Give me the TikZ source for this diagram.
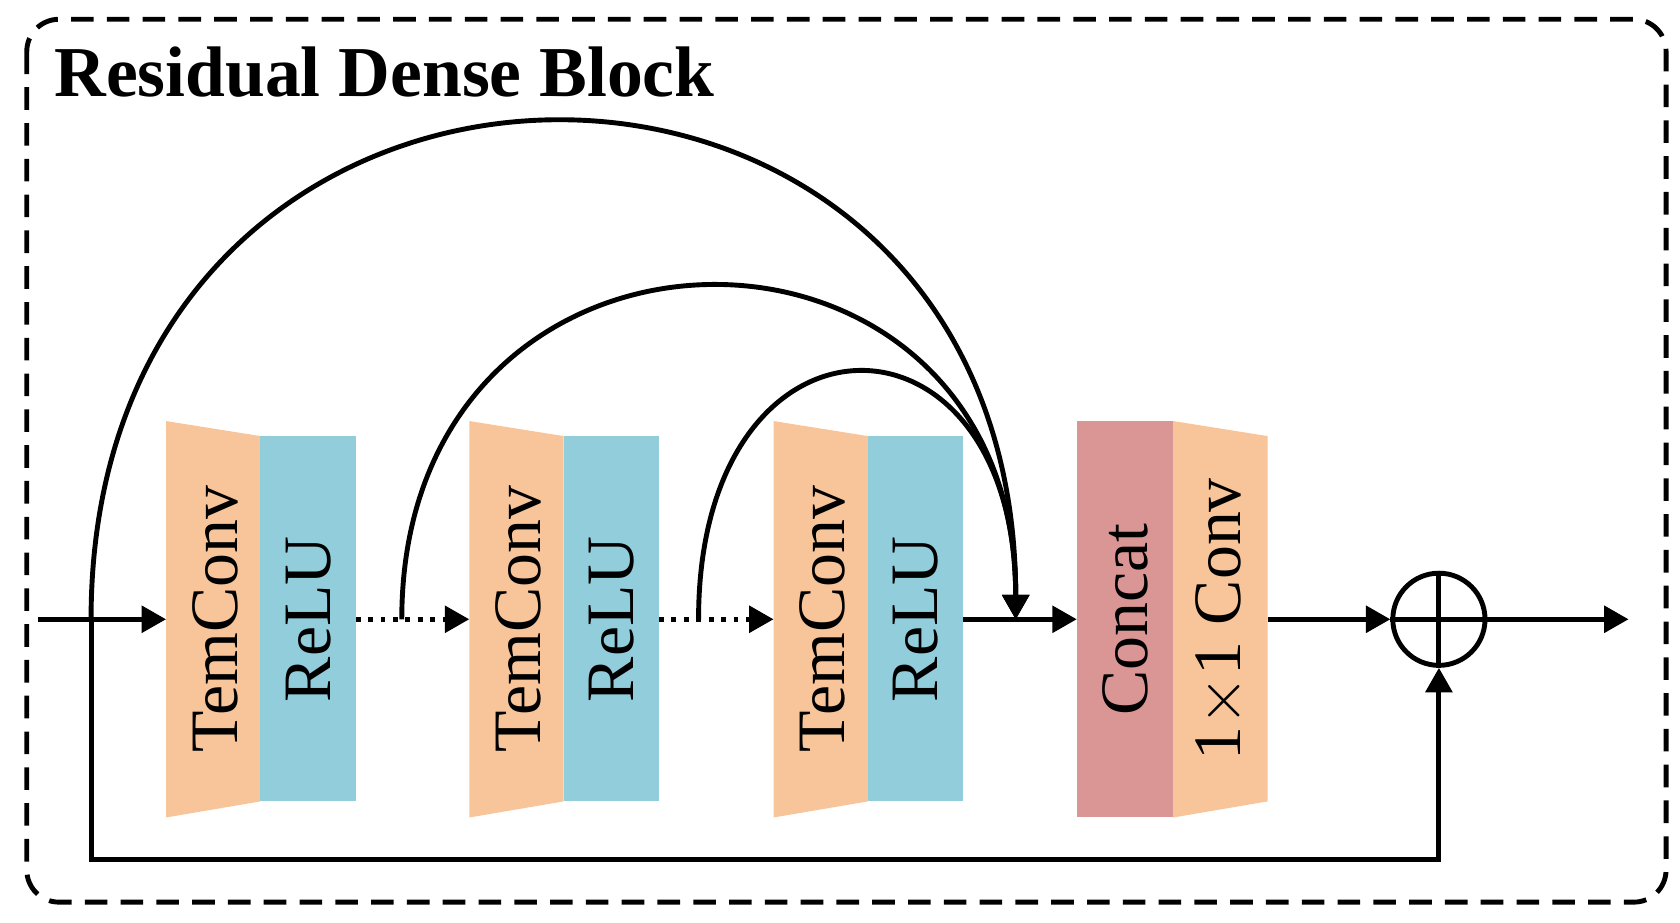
\documentclass[tikz,border=0pt]{standalone}
\usepackage{fontspec}
\setmainfont{Liberation Serif}
\usetikzlibrary{arrows.meta}
\definecolor{org}{HTML}{F8C59A}
\definecolor{blu}{HTML}{92CDDC}
\definecolor{pnk}{HTML}{D99694}
\begin{document}
\begin{tikzpicture}[x=0.01cm,y=-0.01cm,
  ln/.style={line width=1.3pt},
  arr/.style={ln,-{Triangle[length=6.5pt,width=7pt]}},
  lbl/.style={rotate=90,font=\fontsize{18}{18}\selectfont,inner sep=0pt},
  trap/.style={fill=org,draw=none},
  rel/.style={fill=blu,draw=none}]
\useasboundingbox (0,0) rectangle (1568,861);
\draw[ln,dash pattern=on 6pt off 3.5pt,rounded corners=0.3cm] (25,18) rectangle (1555,842);
\node[anchor=base west,font=\fontsize{19}{19}\bfseries\selectfont,inner sep=0pt] (title) at (50,90) {Residual Dense Block};
% blocks
\foreach \x/\n in {155/a,438/b,722/c}{
  \fill[trap] (\x,393) -- (\x+88,407) -- (\x+88,748) -- (\x,763) -- cycle;
  \fill[rel] (\x+88,407) rectangle (\x+177,748);
  \node[lbl] (t\n) at (\x+46,578) {TemConv};
  \node[lbl] (r\n) at (\x+133,578) {ReLU};
  \coordinate (in\n) at (\x,578);
  \coordinate (out\n) at (\x+177,578);
}
\fill[pnk] (1005,393) rectangle (1095,763);
\fill[trap] (1095,393) -- (1183,407) -- (1183,748) -- (1095,763) -- cycle;
\node[lbl] (cc) at (1050,578) {Concat};
\node[lbl] (cv) at (1139,578) {1$\times$1 Conv};
\coordinate (inD) at (1005,578);
\coordinate (outD) at (1183,578);
\node[circle,draw,ln,minimum size=0.86cm,inner sep=0pt] (sum) at (1343,578) {};
\draw[ln] (sum.north) -- (sum.south) (sum.west) -- (sum.east);
\coordinate (start) at (35,578);
\coordinate (split) at (85,578);
\coordinate (end) at (1520,578);
\coordinate (m) at (948,578);
\coordinate (s2) at (375,578);
\coordinate (s3) at (652,578);
% connectors
\draw[arr] (start) -- (ina);
\draw[arr,dotted] (outa) -- (inb);
\draw[arr,dotted] (outb) -- (inc);
\draw[arr] (outc) -- (inD);
\draw[arr] (outD) -- (sum.west);
\draw[arr] (sum.east) -- (end);
\draw[arr] (split) -- (85,802) -- (1343,802) -- (sum.south);
\draw[arr] (split) .. controls (85,-40) and (948,-40) .. (m);
\draw[arr] (s2) .. controls (375,165) and (948,165) .. (m);
\draw[arr] (s3) .. controls (652,272) and (948,272) .. (m);
\end{tikzpicture}
\end{document}
